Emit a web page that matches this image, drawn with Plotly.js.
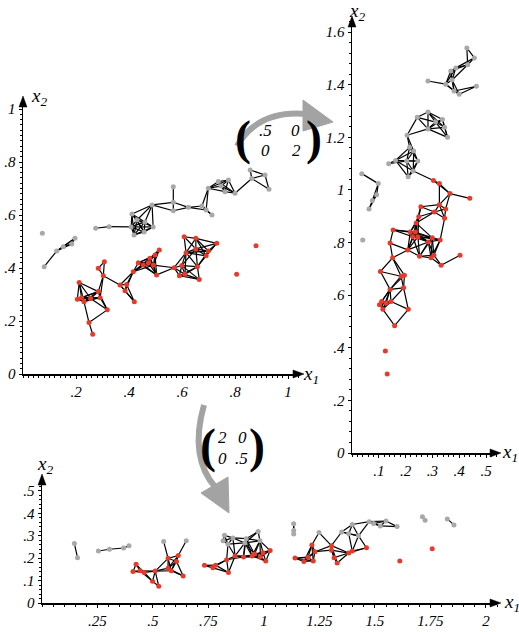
<!DOCTYPE html>
<html><head><meta charset="utf-8">
<script src="https://cdn.plot.ly/plotly-3.0.1.min.js"></script>
<style>html,body{margin:0;padding:0;background:#fff}#chart{width:519px;height:632px}</style>
</head><body><div id="chart"></div>
<script>
// Base data (top-left panel)
const grayX = [0.073,0.080,0.127,0.152,0.184,0.196,0.274,0.325,0.411,0.487,0.408,0.419,0.457,0.491,0.430,0.460,0.567,0.567,0.567,0.624,0.675,0.691,0.713,0.699,0.737,0.775,0.762,0.800,0.747,0.857,0.863,0.913,0.928];
const grayY = [0.531,0.405,0.464,0.480,0.491,0.512,0.550,0.556,0.604,0.638,0.555,0.525,0.536,0.555,0.581,0.574,0.707,0.648,0.616,0.629,0.634,0.619,0.600,0.701,0.726,0.732,0.688,0.682,0.709,0.770,0.738,0.751,0.697];
const redX = [0.307,0.284,0.303,0.212,0.284,0.205,0.230,0.221,0.255,0.291,0.318,0.249,0.263,0.366,0.391,0.385,0.420,0.416,0.435,0.473,0.454,0.479,0.498,0.514,0.492,0.504,0.608,0.652,0.731,0.699,0.691,0.652,0.615,0.658,0.599,0.570,0.590,0.611,0.665,0.879,0.806];
const redY = [0.424,0.399,0.371,0.345,0.311,0.282,0.273,0.288,0.285,0.288,0.242,0.194,0.150,0.336,0.338,0.314,0.273,0.386,0.420,0.420,0.411,0.437,0.449,0.468,0.411,0.374,0.518,0.512,0.493,0.464,0.446,0.472,0.458,0.405,0.409,0.401,0.371,0.376,0.357,0.484,0.376];
// Linear maps shown in the figure
const matTop = [[0.5,0],[0,2]];
const matBottom = [[2,0],[0,0.5]];
const matIdentity = [[1,0],[0,1]];
const neighbourRadius = 0.085;

const W=519,H=632;
const px=x=>x/W, py=y=>1-y/H;
const FONT='Liberation Serif';

function transform(M,xs,ys){
  return [xs.map((x,i)=>M[0][0]*x+M[0][1]*ys[i]), xs.map((x,i)=>M[1][0]*x+M[1][1]*ys[i])];
}
function edges(xs,ys){
  const ex=[],ey=[];
  for(let i=0;i<xs.length;i++)for(let j=i+1;j<xs.length;j++){
    const d=Math.hypot(xs[i]-xs[j],ys[i]-ys[j]);
    if(d<neighbourRadius){ex.push(xs[i],xs[j],null);ey.push(ys[i],ys[j],null);}
  }
  return [ex,ey];
}
const panels=[{M:matIdentity,xa:'x',ya:'y'},{M:matTop,xa:'x2',ya:'y2'},{M:matBottom,xa:'x3',ya:'y3'}];
const traces=[];
panels.forEach(p=>{
  const [gx,gy]=transform(p.M,grayX,grayY);
  const [rx,ry]=transform(p.M,redX,redY);
  const [ex,ey]=edges(gx.concat(rx),gy.concat(ry));
  traces.push({x:ex,y:ey,xaxis:p.xa,yaxis:p.ya,mode:'lines',line:{color:'#000',width:1.2},hoverinfo:'skip',showlegend:false});
  traces.push({x:gx,y:gy,xaxis:p.xa,yaxis:p.ya,mode:'markers',marker:{color:'#a8a8a8',size:5},showlegend:false});
  traces.push({x:rx,y:ry,xaxis:p.xa,yaxis:p.ya,mode:'markers',marker:{color:'#e63b2b',size:5},showlegend:false});
});

const tlXv=[0.2,0.4,0.6,0.8,1], tlXt=['.2','.4','.6','.8','1'];
const tlYv=[0,0.2,0.4,0.6,0.8,1], tlYt=['0','.2','.4','.6','.8','1'];
const trXv=[0.1,0.2,0.3,0.4,0.5], trXt=['.1','.2','.3','.4','.5'];
const trYv=[0,0.2,0.4,0.6,0.8,1,1.2,1.4,1.6], trYt=['0','.2','.4','.6','.8','1','1.2','1.4','1.6'];
const bXv=[0.25,0.5,0.75,1,1.25,1.5,1.75,2], bXt=['.25','.5','.75','1','1.25','1.5','1.75','2'];
const bYv=[0,0.1,0.2,0.3,0.4,0.5], bYt=['0','.1','.2','.3','.4','.5'];

const it=t=>'<i>'+t+'</i>';
function ax(domain,range,vals,text,minor){
  return {domain,range,tickmode:'array',tickvals:vals,ticktext:text.map(it),ticks:'outside',ticklen:3,tickwidth:1,tickcolor:'#000',
    showline:true,linecolor:'#000',linewidth:1.5,showgrid:false,zeroline:false,fixedrange:true,
    tickfont:{family:FONT,size:15,color:'#000'},
    minor:{tick0:0,dtick:minor,ticks:'outside',ticklen:2,tickcolor:'#000',showgrid:false}};
}
const layout={width:W,height:H,margin:{l:0,r:0,t:0,b:0},paper_bgcolor:'#fff',plot_bgcolor:'rgba(0,0,0,0)',showlegend:false,
  font:{family:FONT},
  xaxis:Object.assign(ax([23/W,300/W],[0,1.045],tlXv,tlXt,0.02),{anchor:'y'}),
  yaxis:Object.assign(ax([1-374/H,1-100/H],[0,1.034],tlYv,tlYt,0.02),{anchor:'x'}),
  xaxis2:Object.assign(ax([352/W,497/W],[0,0.541],trXv,trXt,0.02),{anchor:'y2'}),
  yaxis2:Object.assign(ax([1-453/H,1-20/H],[0,1.646],trYv,trYt,0.04),{anchor:'x2'}),
  xaxis3:Object.assign(ax([42/W,497/W],[0,2.05],bXv,bXt,0.05),{anchor:'y3'}),
  yaxis3:Object.assign(ax([1-603/H,1-478/H],[0,0.558],bYv,bYt,0.02),{anchor:'x3'}),
  annotations:[],shapes:[]};

function head(x,y,dir){
  let pts;
  if(dir==='r') pts=[[x+4,y],[x-7,y-4],[x-7,y+4]];
  else pts=[[x,y-4],[x-4,y+7],[x+4,y+7]];
  layout.shapes.push({type:'path',xref:'paper',yref:'paper',path:`M ${px(pts[0][0])},${py(pts[0][1])} L ${px(pts[1][0])},${py(pts[1][1])} L ${px(pts[2][0])},${py(pts[2][1])} Z`,fillcolor:'#000',line:{color:'#000',width:0.5}});
}
head(300,374,'r'); head(23,100,'u'); head(497,453,'r'); head(352,20,'u'); head(497,603,'r'); head(42,478,'u');
function lab(x,y,t,size){
  layout.annotations.push({xref:'paper',yref:'paper',x:px(x),y:py(y),text:t,showarrow:false,xanchor:'center',yanchor:'middle',
    font:{family:FONT,size:size||16,color:'#000'}});
}
const xl=n=>'<i>x</i><sub><i>'+n+'</i></sub>';
lab(39,97,xl(2),19); lab(311,375,xl(1),19);
lab(357,12,xl(2),19); lab(510,453,xl(1),19);
lab(45,465,xl(2),19); lab(512,603,xl(1),19);
function paren(x,y,t){layout.annotations.push({xref:'paper',yref:'paper',x:px(x),y:py(y),text:'<b>'+t+'</b>',showarrow:false,xanchor:'center',yanchor:'middle',
  font:{family:FONT,size:48,color:'#000'}});}
paren(243,138,'('); paren(314,138,')');
lab(265,130,it('.5'),17); lab(295,130,it('0'),17); lab(265,151,it('0'),17); lab(296,151,it('2'),17);
paren(208,446,'('); paren(257,446,')');
lab(222,437,it('2'),17); lab(242,437,it('0'),17); lab(222,458,it('0'),17); lab(241,458,it('.5'),17);
const gray='#a3a3a3';
layout.shapes.push({type:'path',xref:'paper',yref:'paper',path:`M ${px(237)},${py(146)} Q ${px(258)},${py(110)} ${px(306)},${py(114)}`,line:{color:gray,width:6}});
layout.shapes.push({type:'path',xref:'paper',yref:'paper',path:`M ${px(303)},${py(100)} L ${px(333)},${py(122)} L ${px(303)},${py(131)} Z`,fillcolor:gray,line:{color:gray,width:1}});
layout.shapes.push({type:'path',xref:'paper',yref:'paper',path:`M ${px(204)},${py(405)} C ${px(194)},${py(440)} ${px(198)},${py(468)} ${px(216)},${py(488)}`,line:{color:gray,width:6}});
layout.shapes.push({type:'path',xref:'paper',yref:'paper',path:`M ${px(201)},${py(493)} L ${px(229)},${py(513)} L ${px(228)},${py(477)} Z`,fillcolor:gray,line:{color:gray,width:1}});

Plotly.newPlot('chart',traces,layout,{staticPlot:true,displayModeBar:false});
</script></body></html>
